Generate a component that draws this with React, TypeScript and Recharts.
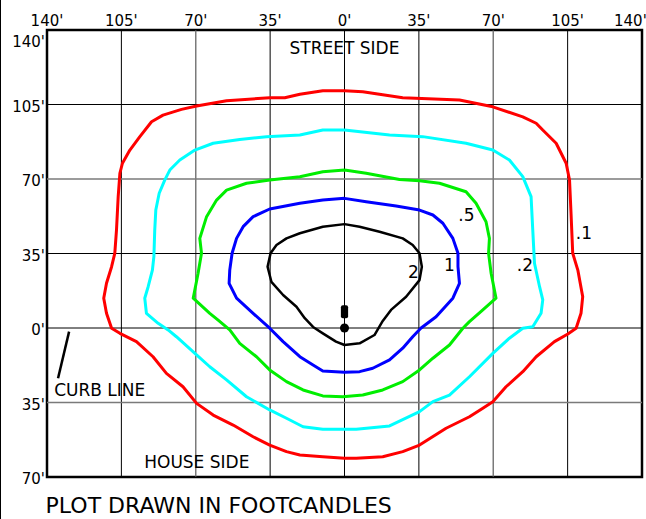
import React from 'react';
import {
  ComposedChart, Line, XAxis, YAxis, ReferenceLine, ReferenceArea, ReferenceDot,
} from 'recharts';

// ---- tick values ----
const xTicks = [-140, -105, -70, -35, 0, 35, 70, 105, 140];
const yTicks = [-70, -35, 0, 35, 70, 105, 140];
const grayX = [-70, 70];
const grayY = [70, -35];

// ---- isofootcandle contours (feet) ----
const contour01 = [
  { x: 0, y: 111.5 }, { x: 8.6, y: 111.0 }, { x: 27.4, y: 108.2 }, { x: 54.1, y: 107.1 },
  { x: 69.8, y: 103.9 }, { x: 83.9, y: 99.2 }, { x: 90.2, y: 96.2 }, { x: 93.3, y: 93.0 },
  { x: 99.6, y: 86.8 }, { x: 104.3, y: 77.4 }, { x: 105.9, y: 69.5 }, { x: 106.6, y: 53.9 },
  { x: 107.4, y: 35.1 }, { x: 109.8, y: 27.2 }, { x: 112.1, y: 14.7 }, { x: 111.3, y: 6.9 },
  { x: 109.0, y: -0.1 }, { x: 105.1, y: -2.8 }, { x: 98.8, y: -6.4 }, { x: 90.2, y: -13.5 },
  { x: 83.9, y: -20.5 }, { x: 76.0, y: -27.6 }, { x: 69.8, y: -34.6 }, { x: 65.1, y: -37.7 },
  { x: 58.8, y: -41.7 }, { x: 47.8, y: -47.1 }, { x: 35.3, y: -55.0 }, { x: 27.4, y: -58.1 },
  { x: 18.0, y: -60.5 }, { x: 5.5, y: -61.2 }, { x: 0, y: -61.2 }, { x: -10.2, y: -60.5 },
  { x: -21.0, y: -59.7 }, { x: -27.3, y: -58.1 }, { x: -35.2, y: -55.0 }, { x: -43.0, y: -51.1 },
  { x: -52.4, y: -45.6 }, { x: -61.8, y: -40.9 }, { x: -69.6, y: -35.4 }, { x: -76.0, y: -27.6 },
  { x: -83.8, y: -21.3 }, { x: -90.1, y: -13.5 }, { x: -97.9, y: -6.4 }, { x: -105.7, y: -2.5 },
  { x: -109.6, y: -0.1 }, { x: -110.4, y: 2.2 }, { x: -112.0, y: 6.9 }, { x: -113.3, y: 14.0 },
  { x: -112.0, y: 21.0 }, { x: -109.6, y: 28.8 }, { x: -108.1, y: 35.1 }, { x: -107.3, y: 46.0 },
  { x: -106.5, y: 61.7 }, { x: -105.7, y: 72.7 }, { x: -104.5, y: 77.4 }, { x: -101.0, y: 83.6 },
  { x: -96.3, y: 89.9 }, { x: -90.8, y: 96.9 }, { x: -85.4, y: 100.0 }, { x: -76.7, y: 102.7 },
  { x: -69.6, y: 104.3 }, { x: -55.5, y: 106.8 }, { x: -35.2, y: 108.2 }, { x: -28.1, y: 108.2 },
  { x: -21.0, y: 109.8 }, { x: -10.2, y: 111.5 }, { x: 0, y: 111.5 },
];

const contour02 = [
  { x: 0, y: 93.0 }, { x: 21.2, y: 90.7 }, { x: 36.8, y: 89.9 }, { x: 57.2, y: 86.8 },
  { x: 69.8, y: 83.6 }, { x: 77.6, y: 78.9 }, { x: 83.9, y: 71.1 }, { x: 87.8, y: 61.7 },
  { x: 88.6, y: 46.0 }, { x: 89.4, y: 30.4 }, { x: 91.8, y: 19.4 }, { x: 93.3, y: 13.2 },
  { x: 92.5, y: 6.9 }, { x: 88.6, y: 0.6 }, { x: 83.9, y: -0.1 }, { x: 77.6, y: -4.8 },
  { x: 69.8, y: -11.9 }, { x: 58.8, y: -22.9 }, { x: 49.4, y: -31.5 }, { x: 41.6, y: -34.6 },
  { x: 35.3, y: -39.3 }, { x: 21.2, y: -46.0 }, { x: 5.5, y: -47.6 }, { x: 0, y: -47.6 },
  { x: -10.2, y: -47.6 }, { x: -19.5, y: -46.4 }, { x: -27.3, y: -42.4 }, { x: -35.2, y: -38.5 },
  { x: -46.1, y: -32.3 }, { x: -55.5, y: -24.4 }, { x: -63.4, y: -18.2 }, { x: -70.4, y: -11.9 },
  { x: -79.1, y: -4.1 }, { x: -83.0, y: -0.9 }, { x: -87.7, y: 2.2 }, { x: -93.2, y: 6.9 },
  { x: -94.0, y: 14.0 }, { x: -92.4, y: 19.4 }, { x: -90.4, y: 27.2 }, { x: -89.7, y: 33.5 },
  { x: -89.3, y: 46.0 }, { x: -88.8, y: 55.4 }, { x: -87.2, y: 63.3 }, { x: -84.6, y: 69.5 },
  { x: -82.2, y: 74.2 }, { x: -77.5, y: 78.9 }, { x: -70.4, y: 83.6 }, { x: -61.8, y: 86.8 },
  { x: -49.3, y: 88.6 }, { x: -36.7, y: 89.9 }, { x: -21.0, y: 90.7 }, { x: -10.2, y: 93.0 },
  { x: 0, y: 93.0 },
];

const contour05 = [
  { x: 0, y: 74.2 }, { x: 10.2, y: 72.7 }, { x: 25.9, y: 69.8 }, { x: 35.3, y: 69.2 },
  { x: 44.7, y: 68.0 }, { x: 57.2, y: 64.0 }, { x: 61.9, y: 58.6 }, { x: 66.6, y: 49.9 },
  { x: 68.2, y: 42.1 }, { x: 67.8, y: 35.1 }, { x: 69.0, y: 25.7 }, { x: 71.3, y: 14.0 },
  { x: 65.1, y: 8.5 }, { x: 58.8, y: 3.0 }, { x: 55.7, y: -0.1 }, { x: 49.4, y: -8.0 },
  { x: 41.6, y: -14.2 }, { x: 35.3, y: -19.7 }, { x: 27.4, y: -25.2 }, { x: 18.0, y: -29.1 },
  { x: 8.6, y: -31.5 }, { x: -0.8, y: -32.3 }, { x: -10.2, y: -31.9 }, { x: -19.5, y: -29.1 },
  { x: -27.3, y: -25.2 }, { x: -35.2, y: -19.7 }, { x: -41.4, y: -13.5 }, { x: -49.3, y: -7.2 },
  { x: -54.0, y: -0.9 }, { x: -59.6, y: 3.8 }, { x: -63.4, y: 6.9 }, { x: -71.2, y: 14.0 },
  { x: -68.9, y: 25.7 }, { x: -67.3, y: 35.1 }, { x: -68.1, y: 42.1 }, { x: -64.9, y: 52.3 },
  { x: -60.2, y: 60.1 }, { x: -55.5, y: 64.8 }, { x: -46.1, y: 68.0 }, { x: -35.2, y: 69.5 },
  { x: -21.0, y: 71.1 }, { x: -10.2, y: 73.4 }, { x: 0, y: 74.2 },
];

const contour1 = [
  { x: 0, y: 60.9 }, { x: 10.2, y: 59.3 }, { x: 24.3, y: 57.3 }, { x: 35.3, y: 55.4 },
  { x: 41.6, y: 53.1 }, { x: 46.3, y: 49.2 }, { x: 51.0, y: 42.1 }, { x: 53.4, y: 35.1 },
  { x: 53.4, y: 28.8 }, { x: 54.1, y: 21.0 }, { x: 51.0, y: 14.0 }, { x: 43.1, y: 5.3 },
  { x: 35.9, y: -0.1 }, { x: 32.1, y: -4.1 }, { x: 27.4, y: -9.5 }, { x: 21.2, y: -15.0 },
  { x: 13.3, y: -18.9 }, { x: 7.1, y: -20.5 }, { x: 0, y: -20.8 }, { x: -10.2, y: -20.2 },
  { x: -14.8, y: -17.4 }, { x: -21.0, y: -13.5 }, { x: -28.9, y: -6.4 }, { x: -35.2, y: -0.1 },
  { x: -43.0, y: 6.9 }, { x: -50.8, y: 14.0 }, { x: -54.3, y: 21.0 }, { x: -54.0, y: 27.2 },
  { x: -52.9, y: 35.1 }, { x: -50.8, y: 42.1 }, { x: -47.7, y: 47.6 }, { x: -43.0, y: 52.3 },
  { x: -35.2, y: 55.9 }, { x: -21.0, y: 58.6 }, { x: -10.2, y: 60.1 }, { x: 0, y: 60.9 },
];

const contour2 = [
  { x: 0, y: 48.8 }, { x: 7.1, y: 47.6 }, { x: 16.5, y: 45.2 }, { x: 27.4, y: 42.1 },
  { x: 32.1, y: 39.0 }, { x: 35.3, y: 35.1 }, { x: 36.4, y: 28.8 }, { x: 35.3, y: 22.5 },
  { x: 29.0, y: 14.7 }, { x: 21.9, y: 8.5 }, { x: 18.0, y: 3.3 }, { x: 14.1, y: -3.3 },
  { x: 7.1, y: -7.2 }, { x: 0, y: -8.0 }, { x: -4.0, y: -6.4 }, { x: -10.2, y: -2.5 },
  { x: -14.8, y: 0.5 }, { x: -18.7, y: 4.6 }, { x: -22.6, y: 10.0 }, { x: -28.9, y: 15.5 },
  { x: -34.4, y: 21.7 }, { x: -36.2, y: 28.8 }, { x: -34.8, y: 35.1 }, { x: -32.0, y: 39.0 },
  { x: -27.3, y: 42.1 }, { x: -21.0, y: 44.5 }, { x: -10.2, y: 47.6 }, { x: 0, y: 48.8 },
];

const contourLabels = [
  { x: 57.4, y: 53.1, text: '.5' },
  { x: 49.4, y: 29.6, text: '1' },
  { x: 32.4, y: 26.2, text: '2' },
  { x: 84.9, y: 29.6, text: '.2' },
  { x: 112.7, y: 44.5, text: '.1' },
];

const sideLabels = [
  { x: 0, y: 131.6, text: 'STREET SIDE' },
  { x: -115.2, y: -29.1, text: 'CURB LINE' },
  { x: -69.5, y: -62.8, text: 'HOUSE SIDE' },
];

const titleText = { x: -59.2, y: -83.1, text: 'PLOT DRAWN IN FOOTCANDLES' };

const curbLine = [{ x: -129.6, y: -1.7 }, { x: -134.8, y: -23.6 }];
const pole = { x: 0, y: 0 };
const poleHead = { x1: -1.7, x2: 1.7, y1: 4.6, y2: 10.7 };

const FONT = '"DejaVu Sans", Verdana, sans-serif';
const fmt = (v: number) => `${Math.abs(v)}'`;

const TopTick = (props: any) => {
  const { x, payload } = props;
  const v = payload.value;
  let anchor: any = 'middle';
  let tx = x;
  if (v === 140) {
    anchor = 'start';
    tx = x - 28;
  }
  return (
    <text x={tx} y={21} dy="0.355em" textAnchor={anchor} fontSize={15} fontFamily={FONT} fill="#000">
      {fmt(v)}
    </text>
  );
};

const LeftTick = (props: any) => {
  const { y, payload } = props;
  const v = payload.value;
  const ty = v === 140 ? y + 12 : y + 2;
  return (
    <text x={45} y={ty} dy="0.355em" textAnchor="end" fontSize={15} fontFamily={FONT} fill="#000">
      {fmt(v)}
    </text>
  );
};

const textLabel = (text: string, size: number) => (props: any) => {
  const { viewBox } = props;
  const cx = viewBox.x + viewBox.width / 2;
  const cy = viewBox.y + viewBox.height / 2;
  return (
    <text x={cx} y={cy} dy="0.355em" textAnchor="middle" fontSize={size} fontFamily={FONT} fill="#000">
      {text}
    </text>
  );
};

const contours = [
  { data: contour01, color: '#ff0000', w: 3 },
  { data: contour02, color: '#00ffff', w: 3 },
  { data: contour05, color: '#00ee00', w: 3 },
  { data: contour1, color: '#0000ff', w: 3 },
  { data: contour2, color: '#000000', w: 2.5 },
];

export default function App() {
  return (
    <div style={{ position: 'absolute', left: 0, top: 0, width: 646, height: 519, background: '#fff', overflow: 'hidden' }}>
      <div style={{ position: 'absolute', left: 0, top: 0, width: 1, height: 519, background: '#000' }} />
      <div style={{ position: 'absolute', left: 0, top: 0 }}>
        <ComposedChart width={646} height={519} margin={{ top: 29, right: 4, bottom: 42, left: 46 }}>
          <XAxis
            xAxisId={0}
            type="number"
            dataKey="x"
            orientation="top"
            domain={[-140, 140]}
            ticks={xTicks}
            interval={0}
            height={1}
            axisLine={false}
            tickLine={false}
            tick={<TopTick />}
            allowDataOverflow
          />
          <YAxis
            yAxisId={0}
            type="number"
            dataKey="y"
            domain={[-70, 140]}
            ticks={yTicks}
            interval={0}
            width={1}
            axisLine={false}
            tickLine={false}
            tick={<LeftTick />}
            allowDataOverflow
          />
          {xTicks.map((v) => (
            <ReferenceLine
              key={`vx${v}`}
              x={v}
              stroke={grayX.includes(v) ? '#7a7a7a' : '#000'}
              strokeWidth={grayX.includes(v) ? 1.5 : 1}
            />
          ))}
          {yTicks.map((v) => (
            <ReferenceLine
              key={`hy${v}`}
              y={v}
              stroke={grayY.includes(v) ? '#7a7a7a' : '#000'}
              strokeWidth={grayY.includes(v) ? 1.5 : 1}
            />
          ))}
          <ReferenceArea x1={-140} x2={140} y1={-70} y2={140} fill="none" fillOpacity={0} stroke="#000" strokeWidth={2.5} />
          {contours.map((c, i) => (
            <Line
              key={`c${i}`}
              data={c.data}
              dataKey="y"
              type="linear"
              stroke={c.color}
              strokeWidth={c.w}
              dot={false}
              activeDot={false}
              isAnimationActive={false}
              strokeLinejoin="round"
            />
          ))}
          <ReferenceLine segment={curbLine} stroke="#000" strokeWidth={2.5} ifOverflow="visible" />
          <ReferenceArea
            x1={poleHead.x1}
            x2={poleHead.x2}
            y1={poleHead.y1}
            y2={poleHead.y2}
            fill="#000"
            fillOpacity={1}
            stroke="none"
            radius={2}
          />
          <ReferenceDot x={pole.x} y={pole.y} r={4.5} fill="#000" stroke="none" />
          {contourLabels.map((l, i) => (
            <ReferenceDot key={`cl${i}`} x={l.x} y={l.y} r={0} fill="none" stroke="none" label={textLabel(l.text, 17)} />
          ))}
          {sideLabels.map((l, i) => (
            <ReferenceDot key={`sl${i}`} x={l.x} y={l.y} r={0} fill="none" stroke="none" label={textLabel(l.text, 17)} />
          ))}
          <ReferenceDot
            x={titleText.x}
            y={titleText.y}
            r={0}
            fill="none"
            stroke="none"
            ifOverflow="visible"
            label={textLabel(titleText.text, 22)}
          />
        </ComposedChart>
      </div>
    </div>
  );
}
